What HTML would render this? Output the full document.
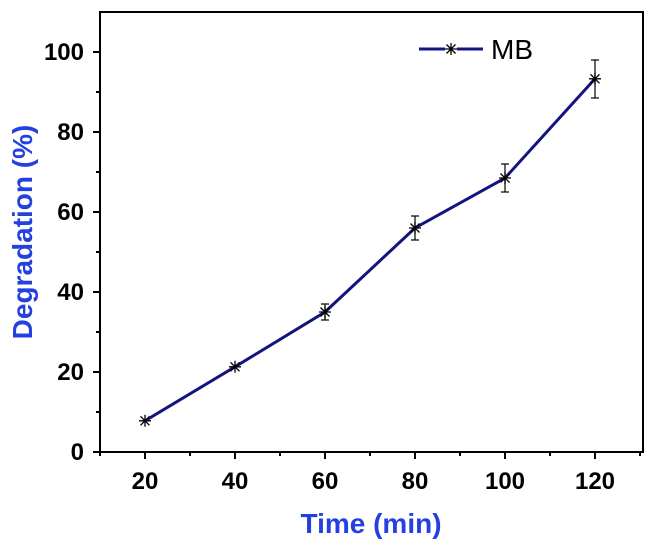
<!DOCTYPE html>
<html><head><style>body{margin:0;background:#fff}</style></head><body>
<svg width="653" height="548" xmlns="http://www.w3.org/2000/svg" font-family="Liberation Sans, sans-serif">
<defs><path id="m" d="M-6,0H6M0,-6V6M-4.5,-4.5L4.5,4.5M-4.5,4.5L4.5,-4.5"/></defs>
<rect x="100" y="12" width="543" height="440" fill="none" stroke="#000" stroke-width="2"/>
<g stroke="#000" stroke-width="2">
<line x1="93" y1="452" x2="100" y2="452"/><line x1="93" y1="372" x2="100" y2="372"/><line x1="93" y1="292" x2="100" y2="292"/><line x1="93" y1="212" x2="100" y2="212"/><line x1="93" y1="132" x2="100" y2="132"/><line x1="93" y1="52" x2="100" y2="52"/>
<line x1="96" y1="412" x2="100" y2="412"/><line x1="96" y1="332" x2="100" y2="332"/><line x1="96" y1="252" x2="100" y2="252"/><line x1="96" y1="172" x2="100" y2="172"/><line x1="96" y1="92" x2="100" y2="92"/>
<line x1="145" y1="452" x2="145" y2="459"/><line x1="235" y1="452" x2="235" y2="459"/><line x1="325" y1="452" x2="325" y2="459"/><line x1="415" y1="452" x2="415" y2="459"/><line x1="505" y1="452" x2="505" y2="459"/><line x1="595" y1="452" x2="595" y2="459"/>
<line x1="100" y1="452" x2="100" y2="456"/><line x1="190" y1="452" x2="190" y2="456"/><line x1="280" y1="452" x2="280" y2="456"/><line x1="370" y1="452" x2="370" y2="456"/><line x1="460" y1="452" x2="460" y2="456"/><line x1="550" y1="452" x2="550" y2="456"/><line x1="640" y1="452" x2="640" y2="456"/>
</g>
<g font-size="24" font-weight="bold" text-anchor="end">
<text x="84" y="460">0</text><text x="84" y="380">20</text><text x="84" y="300">40</text><text x="84" y="220">60</text><text x="84" y="140">80</text><text x="84" y="60">100</text>
</g>
<g font-size="24" font-weight="bold" text-anchor="middle">
<text x="145" y="489">20</text><text x="235" y="489">40</text><text x="325" y="489">60</text><text x="415" y="489">80</text><text x="505" y="489">100</text><text x="595" y="489">120</text>
</g>
<text x="371" y="533" font-size="28" font-weight="bold" fill="#2540e0" text-anchor="middle">Time (min)</text>
<text transform="translate(32,232) rotate(-90)" font-size="28" font-weight="bold" fill="#2540e0" text-anchor="middle">Degradation (%)</text>
<polyline points="145,420.8 235,366.8 325,312 415,228 505,178 595,78.8" fill="none" stroke="#141480" stroke-width="3"/>
<g stroke="#000" stroke-width="1.2">
<line x1="325" y1="304" x2="325" y2="320"/><line x1="321" y1="304" x2="329" y2="304"/><line x1="321" y1="320" x2="329" y2="320"/>
<line x1="415" y1="216" x2="415" y2="240"/><line x1="411" y1="216" x2="419" y2="216"/><line x1="411" y1="240" x2="419" y2="240"/>
<line x1="505" y1="164" x2="505" y2="192"/><line x1="501" y1="164" x2="509" y2="164"/><line x1="501" y1="192" x2="509" y2="192"/>
<line x1="595" y1="60" x2="595" y2="98"/><line x1="591" y1="60" x2="599" y2="60"/><line x1="591" y1="98" x2="599" y2="98"/>
</g>
<g stroke="#000" stroke-width="1.3">
<use href="#m" x="145" y="420.8"/><use href="#m" x="235" y="366.8"/><use href="#m" x="325" y="312"/><use href="#m" x="415" y="228"/><use href="#m" x="505" y="178"/><use href="#m" x="595" y="78.8"/>
</g>
<line x1="419" y1="49" x2="483" y2="49" stroke="#141480" stroke-width="3"/>
<rect x="445" y="42" width="12" height="14" fill="#fff"/>
<use href="#m" x="451" y="49" stroke="#000" stroke-width="1.3"/>
<text x="491" y="59" font-size="28">MB</text>
</svg>
</body></html>
